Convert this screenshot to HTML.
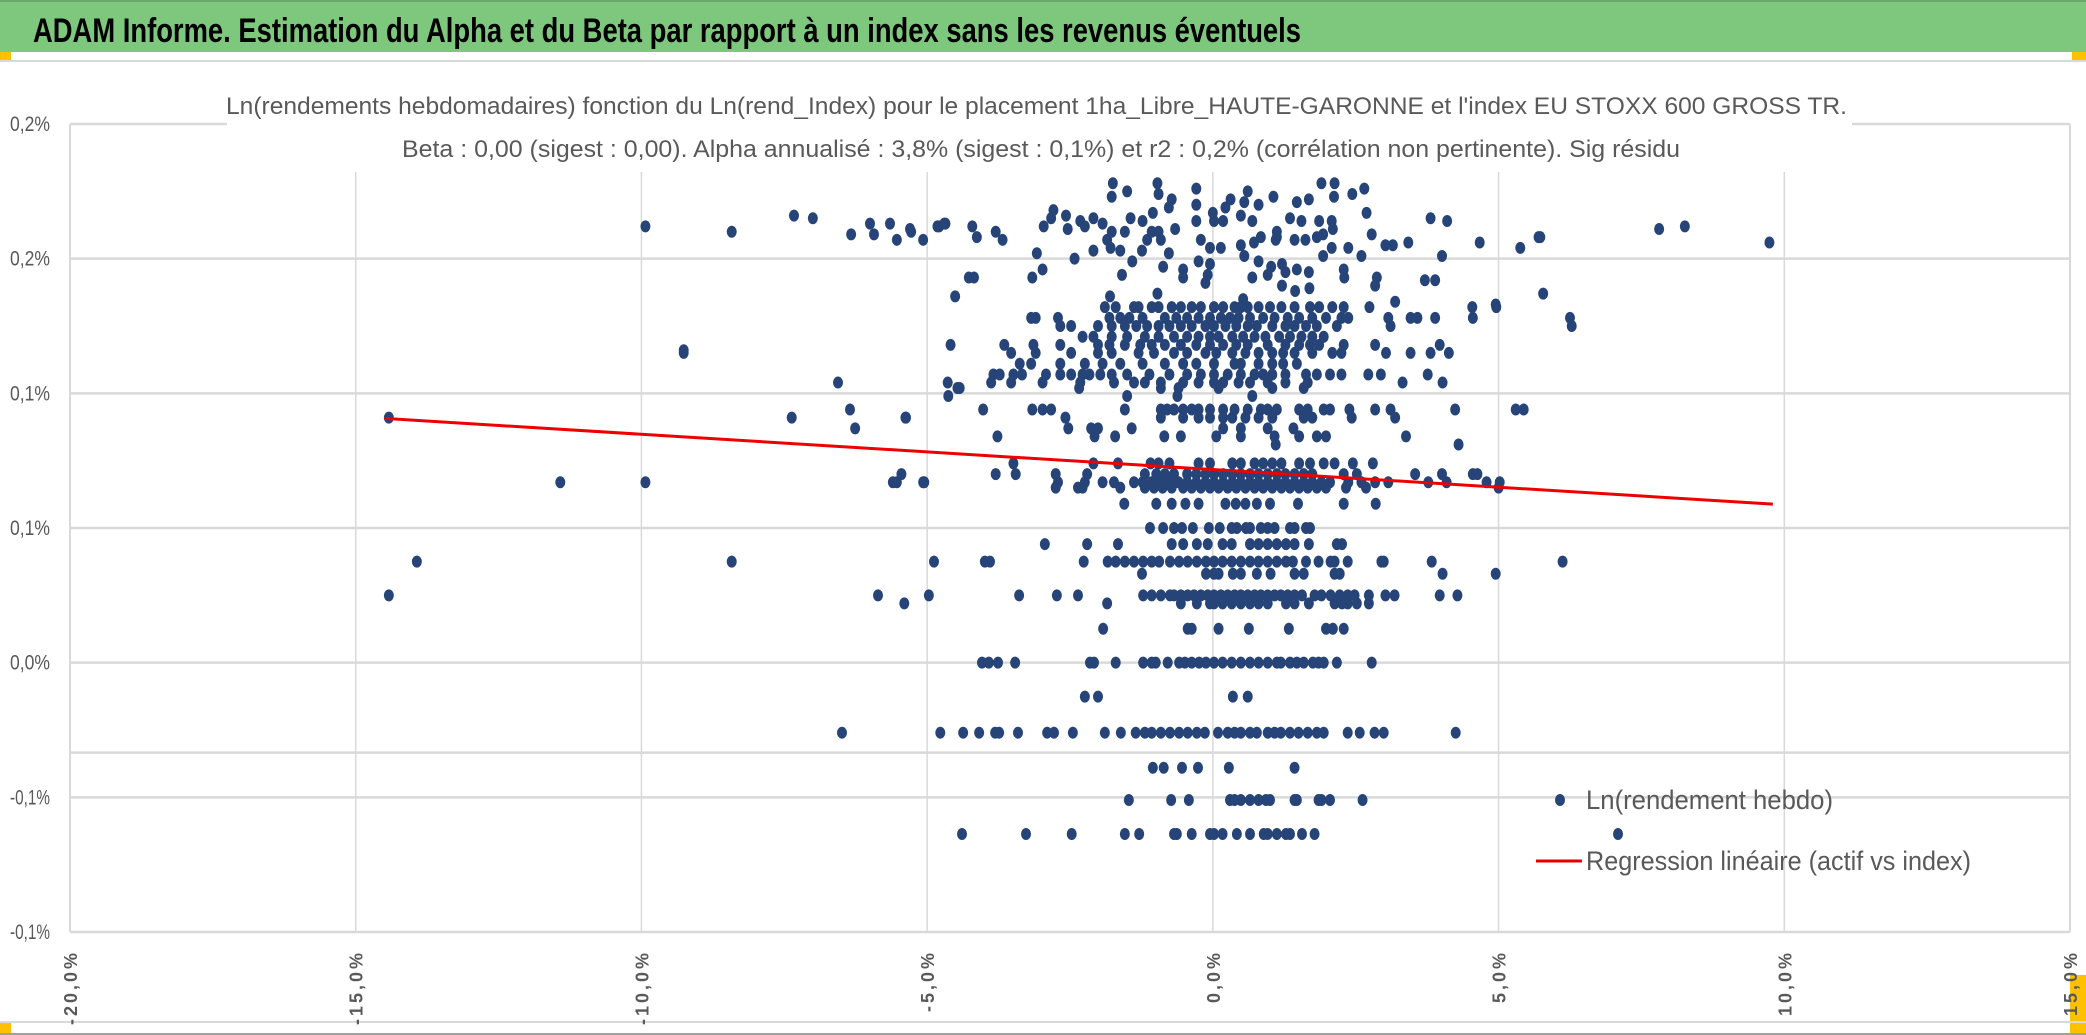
<!DOCTYPE html>
<html><head><meta charset="utf-8"><style>
html,body{margin:0;padding:0;background:#fff;}
svg{display:block;}
</style></head><body>
<svg id="chart" width="2086" height="1035" viewBox="0 0 2086 1035" xmlns="http://www.w3.org/2000/svg" font-family="'Liberation Sans', sans-serif">
<rect x="0" y="0" width="2086" height="1035" fill="#ffffff"/>
<rect x="0" y="0" width="2086" height="52" fill="#7ec87e"/>
<rect x="0" y="0" width="2086" height="2" fill="#6aa86a"/>
<text x="33" y="42" font-size="34" font-weight="bold" fill="#000" textLength="1268" lengthAdjust="spacingAndGlyphs">ADAM Informe. Estimation du Alpha et du Beta par rapport à un index sans les revenus éventuels</text>
<rect x="0" y="52" width="11" height="8" fill="#ffc000"/>
<rect x="2072" y="52" width="14" height="8" fill="#ffc000"/>
<rect x="0" y="1022" width="11" height="11" fill="#ffc000"/>
<rect x="2070" y="975" width="16" height="58" fill="#ffc000"/>
<rect x="0" y="60" width="2086" height="2" fill="#d9d9d9"/>
<rect x="0" y="1021" width="2086" height="2" fill="#d9d9d9"/>
<rect x="0" y="1033" width="2086" height="2" fill="#a0a0a0"/>
<g id="grid"></g>
<g id="ylabels"></g>
<g id="xlabels"></g>
<rect x="227" y="80" width="1625" height="92" fill="#ffffff"/>
<text x="226" y="114" font-size="24" fill="#595959" textLength="1621" lengthAdjust="spacingAndGlyphs">Ln(rendements hebdomadaires) fonction du Ln(rend_Index) pour le placement 1ha_Libre_HAUTE-GARONNE et l'index EU STOXX 600 GROSS TR.</text>
<text x="402" y="157" font-size="24" fill="#595959" textLength="1278" lengthAdjust="spacingAndGlyphs">Beta : 0,00 (sigest : 0,00). Alpha annualisé : 3,8% (sigest : 0,1%) et r2 : 0,2% (corrélation non pertinente). Sig résidu</text>
<g id="points"></g>
<g id="reg"></g>
<g>
<ellipse cx="1560" cy="800" rx="5" ry="6" fill="#264478"/>
<text x="1586" y="809" font-size="27" fill="#595959" textLength="247" lengthAdjust="spacingAndGlyphs">Ln(rendement hebdo)</text>
<line x1="1536" y1="861" x2="1582" y2="861" stroke="#e00000" stroke-width="3"/>
<text x="1586" y="870" font-size="27" fill="#595959" textLength="385" lengthAdjust="spacingAndGlyphs">Regression linéaire (actif vs index)</text>
</g>
</svg>
<script>
// axis domain / ticks
const xTicks = [-20, -15, -10, -5, 0, 5, 10, 15];
const xTickLabels = ["-20,0%", "-15,0%", "-10,0%", "-5,0%", "0,0%", "5,0%", "10,0%", "15,0%"];
const yTicks = [0.20, 0.15, 0.10, 0.05, 0.0, -0.05, -0.10];
const yTickLabels = ["0,2%", "0,2%", "0,1%", "0,1%", "0,0%", "-0,1%", "-0,1%"];
const extraLineY = [-0.0334];
// regression
const regXRange = [-14.5, 9.8];
const regIntercept = [0.0717];
const regSlope = [-0.00131];
// discrete-level rows: y value (%) and x values (%)
const rowY = [-0.0636, -0.051, -0.039, -0.026, -0.0126, 0.0, 0.0126, 0.022, 0.025, 0.033, 0.0375, 0.044, 0.050, 0.059, 0.065, 0.067, 0.070, 0.074, 0.081, 0.084, 0.087, 0.091, 0.094, 0.099, 0.102, 0.104, 0.107, 0.111, 0.115, 0.118, 0.121, 0.125, 0.128, 0.132];
const rowX = [
 [-4.39,-3.27,-2.47,-1.54,-1.29,-0.68,-0.63,-0.37,-0.05,0.02,0.17,0.42,0.65,0.89,0.96,1.12,1.28,1.35,1.56,1.78,7.09],
 [-1.47,-0.73,-0.42,0.30,0.38,0.49,0.65,0.80,0.93,1.0,1.43,1.47,1.85,1.90,2.05,2.62],
 [-1.05,-0.86,-0.54,-0.26,0.28,1.43],
 [-6.49,-4.77,-4.37,-4.09,-3.81,-3.74,-3.41,-2.90,-2.78,-2.45,-1.89,-1.61,-1.35,-1.19,-1.07,-0.91,-0.75,-0.59,-0.44,-0.28,-0.14,0.09,0.26,0.38,0.49,0.65,0.77,0.96,1.08,1.19,1.35,1.50,1.66,1.82,1.94,2.36,2.57,2.83,2.99,4.25],
 [-2.24,-2.01,0.35,0.61],
 [-4.04,-3.92,-3.76,-3.46,-2.15,-2.08,-1.70,-1.22,-1.07,-1.0,-0.79,-0.59,-0.49,-0.37,-0.24,-0.12,0.02,0.17,0.33,0.49,0.65,0.80,0.96,1.12,1.19,1.35,1.47,1.59,1.75,1.85,1.94,2.17,2.78],
 [-1.92,-0.44,-0.37,0.10,0.63,1.33,1.98,2.10,2.29],
 [-5.40,-1.85,-0.56,-0.28,-0.05,0.02,0.17,0.33,0.49,0.65,0.80,0.96,1.28,1.43,1.68,2.13,2.26,2.36,2.52,2.73],
 [-14.42,-5.86,-4.97,-3.39,-2.73,-2.36,-1.22,-1.07,-0.91,-0.75,-0.68,-0.56,-0.44,-0.33,-0.21,-0.09,0.02,0.14,0.26,0.38,0.49,0.61,0.73,0.84,0.96,1.08,1.19,1.31,1.43,1.56,1.78,1.90,2.06,2.22,2.36,2.48,2.73,3.02,3.18,3.97,4.28],
 [-1.24,-0.12,0.02,0.10,0.35,0.49,0.77,1.01,1.43,1.59,2.13,2.22,4.02,4.95],
 [-13.93,-8.42,-4.88,-3.99,-3.90,-2.26,-1.84,-1.70,-1.54,-1.38,-1.22,-1.07,-0.94,-0.75,-0.59,-0.44,-0.28,-0.12,0.02,0.17,0.33,0.49,0.65,0.80,0.96,1.12,1.28,1.40,1.63,1.85,2.06,2.13,2.36,2.95,2.99,3.83,6.12],
 [-2.94,-2.20,-1.66,-0.72,-0.52,-0.28,-0.09,0.17,0.33,0.65,0.80,0.96,1.12,1.28,1.43,1.68,2.17,2.26],
 [-1.10,-0.87,-0.68,-0.54,-0.35,-0.07,0.12,0.33,0.42,0.58,0.65,0.84,0.96,1.08,1.35,1.43,1.63,1.70],
 [-1.55,-0.99,-0.72,-0.48,-0.25,0.22,0.40,0.57,0.77,1.0,1.49,2.29,2.85],
 [-2.75,-2.36,-2.28,-1.62,-1.19,-1.03,-0.88,-0.72,-0.52,-0.37,-0.21,-0.05,0.10,0.26,0.41,0.57,0.73,0.88,1.04,1.20,1.35,1.51,1.66,1.82,1.98,2.33,2.68,5.0],
 [-11.42,-9.93,-5.60,-5.53,-5.07,-5.05,-2.71,-2.24,-1.93,-1.73,-1.38,-1.23,-1.07,-0.91,-0.76,-0.60,-0.45,-0.29,-0.13,0.02,0.18,0.34,0.49,0.65,0.80,0.96,1.12,1.27,1.43,1.59,1.74,1.90,2.05,2.37,2.60,2.84,3.07,3.77,4.09,4.79,5.02],
 [-5.45,-3.80,-3.45,-2.75,-2.20,-1.19,-0.99,-0.84,-0.68,-0.45,-0.29,-0.13,0.02,0.18,0.34,0.49,0.65,0.80,0.96,1.12,1.27,1.43,1.59,1.74,2.29,2.52,3.54,4.01,4.55,4.63],
 [-3.49,-2.09,-1.66,-1.09,-0.95,-0.76,-0.25,-0.05,0.34,0.49,0.73,0.88,1.04,1.20,1.51,1.70,1.94,2.13,2.45,2.80],
 [1.10,4.30],
 [-3.77,-2.07,-1.71,-0.85,-0.56,0.06,0.49,1.08,1.51,1.82,1.98,3.38],
 [-6.26,-2.53,-2.13,-2.01,-1.42,0.18,0.49,0.96,1.41],
 [-14.42,-7.37,-5.38,-5.37,-2.58,-0.91,-0.52,-0.25,-0.05,0.18,0.34,0.57,0.80,1.04,1.59,1.74,2.43,3.19],
 [-6.35,-4.02,-3.16,-2.98,-2.83,-1.54,-0.91,-0.80,-0.68,-0.52,-0.37,-0.25,-0.05,0.18,0.38,0.61,0.84,0.96,1.12,1.51,1.66,1.94,2.05,2.39,2.84,3.11,4.24,5.30,5.44],
 [-4.63,-1.50,-0.62,0.69],
 [-4.47,-4.43,-2.34,-0.91,-0.60,0.10,1.04,1.59],
 [-6.56,-4.64,-3.88,-3.53,-2.98,-2.32,-1.73,-1.38,-1.19,-0.91,-0.52,-0.25,0.02,0.18,0.45,0.65,0.96,1.27,1.66,3.32,4.02],
 [-3.84,-3.73,-3.49,-3.34,-2.92,-2.67,-2.48,-2.28,-2.16,-1.97,-1.77,-1.50,-1.11,-0.76,-0.45,-0.21,0.02,0.26,0.49,0.73,0.88,1.04,1.27,1.63,1.82,2.05,2.25,2.72,2.94,3.76],
 [-3.38,-3.18,-2.67,-2.24,-1.93,-1.62,-1.23,-0.84,-0.52,-0.29,0.02,0.38,0.49,0.80,1.04,1.23,1.47],
 [-9.26,-3.53,-3.10,-2.48,-2.01,-1.77,-1.30,-1.03,-0.68,-0.45,-0.13,0.06,0.34,0.57,0.80,1.04,1.23,1.43,1.74,2.09,2.25,3.03,3.46,3.81,4.13],
 [-4.59,-3.65,-3.14,-2.67,-2.01,-1.81,-1.54,-1.27,-1.07,-0.84,-0.56,-0.29,-0.05,0.18,0.41,0.61,0.96,1.27,1.51,1.70,1.86,2.29,2.84,3.97],
 [-2.28,-2.09,-1.77,-1.50,-1.19,-0.95,-0.68,-0.45,-0.25,-0.05,0.10,0.34,0.53,0.73,0.92,1.16,1.35,1.55,1.74,1.94],
 [-2.67,-2.48,-2.01,-1.77,-1.54,-1.34,-1.15,-0.95,-0.76,-0.56,-0.37,-0.13,0.02,0.22,0.41,0.61,0.77,1.04,1.27,1.43,1.63,1.82,2.17,3.11,6.28],
 [-3.18,-3.10,-2.71,-1.81,-1.62,-1.46,-1.23,-0.84,-0.64,-0.45,-0.25,-0.05,0.14,0.30,0.45,0.65,0.88,1.08,1.31,1.51,1.74,1.98,2.25,2.37,3.07,3.46,3.58,3.89,4.55,6.25],
 [-1.89,-1.70,-1.38,-1.30,-1.07,-0.95,-0.72,-0.56,-0.37,-0.21,0.02,0.18,0.38,0.49,0.61,0.80,1.0,1.20,1.43,1.70,1.86,2.09,2.29,2.74,4.54,4.96]
];
// free scatter points in the upper region (x %, y %)
const freeX = [-1.75,-1.50,-1.77,-0.97,-0.95,-0.29,-0.72,-0.77,-0.29,-0.29,0.0,0.22,0.31,0.61,0.55,0.80,1.06,1.47,1.68,1.90,2.13,2.12,2.44,2.65,2.69,-2.79,-2.57,-2.09,-2.32,-1.93,-1.44,-1.23,-1.05,-2.83,-2.96,-2.54,-2.24,-1.77,-1.54,-1.07,-0.95,-0.66,0.02,0.18,0.49,0.69,1.35,1.55,1.86,2.08,2.10,1.12,3.81,4.10,-4.82,-4.68,-5.30,-5.07,-4.13,-3.80,-3.68,2.78,5.73,5.38,4.67,3.02,3.15,3.42,4.01,-1.85,-1.79,-1.62,-1.15,-1.24,-0.91,-0.77,-0.21,-0.05,0.14,0.49,0.72,0.84,1.10,1.12,1.43,1.62,1.82,1.93,2.08,2.37,2.60,1.93,-2.09,-2.42,-3.08,-1.41,-1.59,-0.87,-0.52,-0.25,-0.05,-0.09,-0.13,-0.52,0.55,0.80,0.69,0.96,1.02,1.21,1.27,1.47,1.68,1.21,1.44,1.69,2.29,2.30,2.87,2.84,3.71,3.89,5.78,-2.98,-3.16,-4.27,-4.18,-4.51,-1.80,-0.97,0.53,3.19,4.95,-9.93,-8.42,-9.26,-7.33,-7.00,-6.33,-6.00,-5.93,-5.65,-5.53,-5.28,-4.79,-4.70,-4.21,7.81,8.26,9.74,5.70];
const freeY = [0.178,0.175,0.173,0.178,0.174,0.176,0.172,0.169,0.170,0.164,0.167,0.169,0.172,0.175,0.171,0.170,0.173,0.171,0.172,0.178,0.178,0.173,0.174,0.176,0.167,0.168,0.166,0.165,0.164,0.163,0.165,0.164,0.167,0.165,0.162,0.161,0.162,0.160,0.160,0.160,0.160,0.161,0.164,0.164,0.166,0.164,0.165,0.164,0.164,0.164,0.161,0.160,0.165,0.164,0.162,0.163,0.161,0.157,0.158,0.160,0.157,0.159,0.158,0.154,0.156,0.155,0.155,0.156,0.151,0.157,0.154,0.153,0.157,0.153,0.157,0.152,0.157,0.154,0.154,0.155,0.156,0.158,0.157,0.158,0.157,0.157,0.158,0.159,0.154,0.154,0.151,0.151,0.153,0.150,0.152,0.149,0.144,0.147,0.146,0.149,0.148,0.144,0.141,0.143,0.151,0.149,0.143,0.144,0.147,0.148,0.145,0.146,0.145,0.140,0.138,0.139,0.146,0.143,0.143,0.140,0.142,0.142,0.137,0.146,0.143,0.143,0.143,0.136,0.136,0.137,0.135,0.134,0.133,0.162,0.160,0.116,0.166,0.165,0.159,0.163,0.159,0.163,0.157,0.160,0.162,0.163,0.162,0.161,0.162,0.156,0.158];

const NS = "http://www.w3.org/2000/svg";
const X0 = 70, X1 = 2070, YTOP = 124, YBOT = 932;
function xScale(v){ return X0 + (v - (-20)) * (X1 - X0) / 35; }
function yScale(v){ return YBOT - (v - (-0.10)) * (YBOT - YTOP) / 0.30; }
function mk(tag, attrs, parent){
  const el = document.createElementNS(NS, tag);
  for (const k in attrs) el.setAttribute(k, attrs[k]);
  parent.appendChild(el);
  return el;
}

const grid = document.getElementById('grid');
xTicks.forEach(function(t, i){
  const x = xScale(t);
  const ln = mk('line', {x1:x, x2:x, y1:172, y2:YBOT, stroke:'#d9d9d9', 'stroke-width': 1.5}, grid);
  
  
});
yTicks.forEach(function(t){
  const y = yScale(t);
  const ln = mk('line', {x1:X0, x2:X1, y1:y, y2:y, stroke:'#d9d9d9', 'stroke-width': 2.5}, grid);
  
  
});
extraLineY.forEach(function(t){
  const y = yScale(t);
  const ln = mk('line', {x1:X0, x2:X1, y1:y, y2:y, stroke:'#d9d9d9', 'stroke-width': 2.5}, grid);
  
  
});
const lAx = mk('line', {x1:X0, x2:X0, y1:YTOP, y2:YBOT, stroke:'#d9d9d9', 'stroke-width': 2}, grid);


const rAx = mk('line', {x1:X1, x2:X1, y1:YTOP, y2:YBOT, stroke:'#d9d9d9', 'stroke-width': 2}, grid);



const yl = document.getElementById('ylabels');
yTicks.forEach(function(t, i){
  const tx = mk('text', {x:50, y:yScale(t)+7, 'text-anchor':'end', 'font-size':21, fill:'#595959', textLength:40, lengthAdjust:'spacingAndGlyphs'}, yl);
  tx.textContent = yTickLabels[i];
  
  
});
const xl = document.getElementById('xlabels');
xTicks.forEach(function(t, i){
  const x = xScale(t) + 7;
  const lab = xTickLabels[i];
  const tx = mk('text', {x:x, y:950, 'text-anchor':'end', 'font-size':18, 'font-weight':'bold', fill:'#595959', 'letter-spacing':'3', transform:'rotate(-90 '+x+' 950)'}, xl);
  tx.textContent = lab;
  
  
});

const pts = document.getElementById('points');
rowY.forEach(function(yv, r){
  rowX[r].forEach(function(xv){
    const p = mk('ellipse', {cx:xScale(xv), cy:yScale(yv), rx:5, ry:6, fill:'#264478'}, pts);
    
    
  });
});
freeX.forEach(function(xv, i){
  const p = mk('ellipse', {cx:xScale(xv), cy:yScale(freeY[i]), rx:5, ry:6, fill:'#264478'}, pts);
  
  
});

const reg = document.getElementById('reg');
const ya = regIntercept[0] + regSlope[0]*regXRange[0];
const yb = regIntercept[0] + regSlope[0]*regXRange[1];
const rl = mk('line', {x1:xScale(regXRange[0]), y1:yScale(ya), x2:xScale(regXRange[1]), y2:yScale(yb), stroke:'#ee0000', 'stroke-width':3}, reg);


</script>
</body></html>
